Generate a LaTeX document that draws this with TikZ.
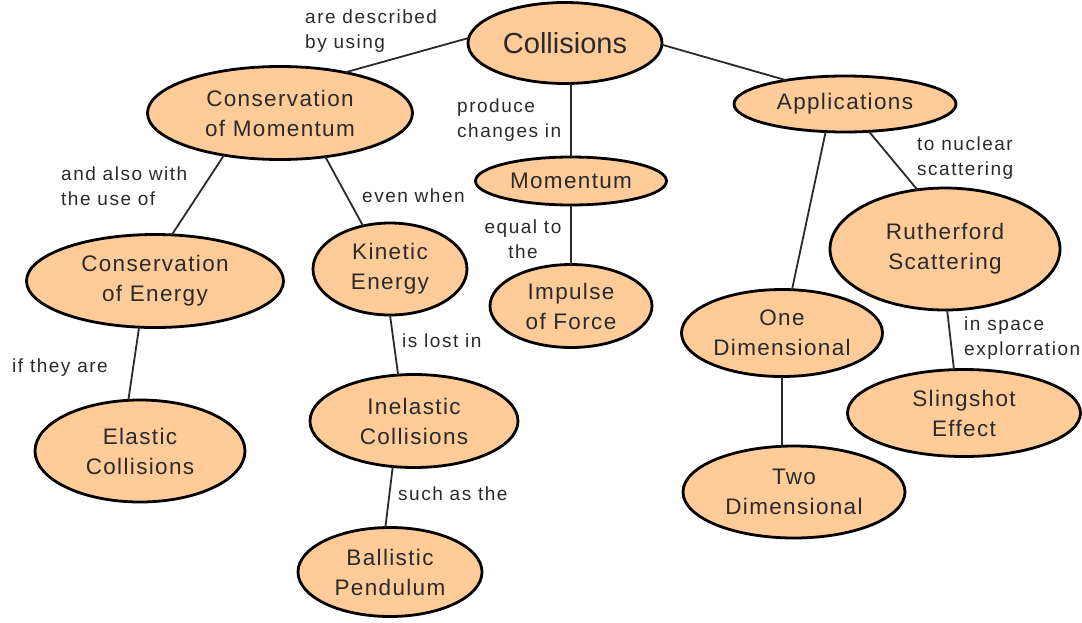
\documentclass[tikz,border=0pt]{standalone}
\usepackage{fontspec}
\setmainfont{Liberation Sans}
\newfontfamily\nfont[LetterSpace=6]{Liberation Sans}
\newfontfamily\lfont[LetterSpace=8]{Liberation Sans}
\usetikzlibrary{shapes.geometric}
\definecolor{peach}{HTML}{FFCC99}
\definecolor{ink}{HTML}{2A2A2A}
\begin{document}
\begin{tikzpicture}[x=1pt,y=-1pt,
  concept/.style={ellipse,draw=black,line width=2.8pt,fill=peach,inner sep=0pt,outer sep=0pt,
    align=center,text=ink,font=\nfont\fontsize{22.5}{30}\selectfont},
  link/.style={draw=ink,line width=1.8pt},
  lbl/.style={inner sep=0pt,anchor=base west,align=left,text=ink,font=\lfont\fontsize{19}{25}\selectfont}]
\useasboundingbox[fill=white] (0,0) rectangle (1082,622);

\node[concept,minimum width=194pt,minimum height=81pt,font=\fontsize{29}{34}\selectfont] (coll) at (565,43) {Collisions};
\node[concept,minimum width=265pt,minimum height=93pt] (cm) at (280,113) {Conservation\\of Momentum};
\node[concept,minimum width=222pt,minimum height=56pt] (app) at (845,104) {Applications};
\node[concept,minimum width=191pt,minimum height=48pt] (mom) at (571,181) {Momentum};
\node[concept,minimum width=257pt,minimum height=93pt] (ce) at (155,281) {Conservation\\of Energy};
\node[concept,minimum width=154pt,minimum height=92pt] (ke) at (390,269) {Kinetic\\Energy};
\node[concept,minimum width=162pt,minimum height=83pt] (imp) at (571,306) {Impulse\\of Force};
\node[concept,minimum width=230pt,minimum height=122pt] (ruth) at (945,249) {Rutherford\\Scattering};
\node[concept,minimum width=201pt,minimum height=87pt] (one) at (782,333) {One\\Dimensional};
\node[concept,minimum width=233pt,minimum height=87pt] (sling) at (964,413) {Slingshot\\Effect};
\node[concept,minimum width=210pt,minimum height=102pt] (el) at (140,451) {Elastic\\Collisions};
\node[concept,minimum width=208pt,minimum height=93pt] (inel) at (414,421) {Inelastic\\Collisions};
\node[concept,minimum width=184pt,minimum height=89pt] (ball) at (390,572) {Ballistic\\Pendulum};
\node[concept,minimum width=222pt,minimum height=92pt] (two) at (794,492) {Two\\Dimensional};

\draw[link] (coll.177) -- (cm.32);
\draw[link] (coll.-1) -- (app.158);
\draw[link] (coll.south -| mom.north) -- (mom.north);
\draw[link] (mom.south) -- (imp.north);
\draw[link] (cm.-143) -- (ce.70);
\draw[link] (cm.-44) -- (ke.122);
\draw[link] (ce.251) -- (el.103);
\draw[link] (ke.south) -- (inel.109);
\draw[link] (inel.-115) -- (ball.96);
\draw[link] (app.-125) -- (one.77);
\draw[link] (app.-49) -- (ruth.115);
\draw[link] (ruth.-88) -- (sling.103);
\draw[link] (one.south) -- (one.south |- two.north);

\node[lbl] (l1) at (305,48) {are described\\by using};
\node[lbl] (l2) at (61,205) {and also with\\the use of};
\node[lbl] (l3) at (362,202) {even when};
\node[lbl] (l4) at (457,137) {produce\\changes in};
\node[lbl,align=center,anchor=base] (l5) at (523,258) {equal to\\the};
\node[lbl] (l6) at (917,175) {to nuclear\\scattering};
\node[lbl] (l7) at (12,372) {if they are};
\node[lbl] (l8) at (402,347) {is lost in};
\node[lbl] (l9) at (964,355) {in space\\explorration};
\node[lbl] (l10) at (398,500) {such as the};
\end{tikzpicture}
\end{document}
